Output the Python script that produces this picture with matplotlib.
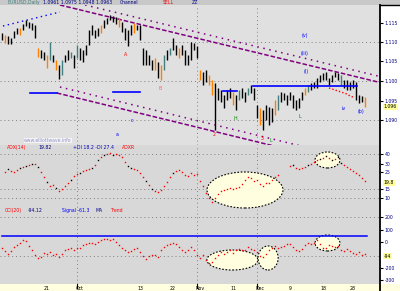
import numpy as np
import matplotlib
matplotlib.use("Agg")
import matplotlib.pyplot as plt
from matplotlib.patches import Ellipse, Rectangle
from matplotlib.lines import Line2D
import matplotlib.transforms as mtrans

# ---------------- data ----------------
bar_high = [167,165,164,162,169,172,172,176,180,178,177,175,152,150,148,145,158,145,140,135,
            140,145,150,148,145,155,152,150,155,170,175,170,172,175,180,182,185,184,183,182,
            178,172,170,175,177,175,175,152,150,145,140,142,138,135,145,150,152,162,155,152,
            155,150,145,158,157,154,130,128,130,125,120,117,112,110,105,110,112,108,105,110,
            112,108,112,115,112,95,92,90,95,93,92,100,105,108,107,105,108,105,100,102,
            108,112,115,117,118,122,125,127,128,122,125,128,127,125,120,120,118,120,118,105,
            104,103]
bar_low = [160,157,156,156,162,166,165,170,174,172,170,162,143,142,140,132,140,138,130,121,
           125,138,140,142,132,142,140,138,145,155,165,162,164,167,172,176,180,178,176,173,
           168,160,154,165,167,170,160,135,135,135,130,130,122,120,130,140,145,150,145,142,
           145,135,135,140,150,142,120,115,118,115,105,70,100,98,92,100,102,95,90,100,
           102,98,105,107,100,82,75,70,80,75,78,85,90,98,100,95,100,92,90,92,
           100,105,108,110,112,112,118,120,120,115,118,123,120,115,112,110,110,112,100,97,
           98,93]
orange_bars = [1, 6, 12, 15, 18, 33, 39, 44, 51, 53, 59, 66, 69, 70, 77, 86, 91, 101, 121]
teal_bars = [16, 20, 23, 25, 54, 56, 79, 82, 92, 102, 113]

nan = np.nan
osc1 = [nan,39,42,40,39,41,43,44,45,46,47,47,44,39,34,29,25,26,23,20,
        22,25,28,31,35,37,38,40,41,42,43,46,51,54,56,57,58,56,57,56,
        54,49,45,43,42,41,38,34,30,26,22,20,19,21,25,29,34,38,40,41,
        39,36,35,38,36,37,30,25,18,13,9,13,17,20,21,22,23,22,23,24,
        27,31,34,33,30,31,27,25,28,28,31,34,36,nan,nan,nan,45,46,43,42,
        43,44,46,47,49,51,52,53,55,53,51,52,54,48,46,44,42,40,38,36,
        33,30]
osc1_black = [2, 6, 8, 10, 12, 15, 18, 23, 26, 30, 32, 34, 37, 42, 43, 48, 50, 57,
              97, 102, 106, 108, 110, 112, 113]

osc2 = [36,33,30,33,37,39,41,44,43,38,34,29,26,27,31,30,32,29,30,27,
        30,34,35,36,34,36,36,39,40,41,41,40,42,44,45,45,44,45,42,39,
        36,34,32,33,35,36,32,28,25,28,29,29,27,34,37,39,40,41,40,37,
        34,32,34,37,34,29,26,29,24,21,22,26,29,32,30,32,34,31,34,35,
        34,34,37,35,34,32,28,27,30,34,36,38,36,37,38,40,40,37,34,33,
        35,39,41,40,41,44,40,36,36,39,38,37,38,34,33,35,33,31,30,32,
        29,30]

# trend channel lines: (index, level) end points
upper_dashed = [(19.3, 195), (126, 117.5)]
upper_dotted = [(27.7, 195), (126, 123.5)]
lower_dotted = [(19.3, 113), (99, 54.5)]
lower_dashed = [(18.3, 107), (90, 54.5)]
blue_dotted = [(0.33, 174), (19.3, 188)]
blue_levels = [(9.3, 18.3, 107), (37, 46, 108), (73.7, 78.3, 109), (83.7, 118.3, 114)]
red_curve_x = [109, 110, 111, 112, 113, 114, 115, 116, 117]
red_curve_y = [112, 111, 110, 109, 108, 107, 106, 104, 103]

osc1_ellipses = [(81, 21, 25.3, 36), (108.5, 51, 8.3, 16)]
osc2_ellipses = [(76.8, 24, 17, 20), (88.7, 26, 6.7, 24), (108.5, 41, 8.3, 16)]
osc2_signal = 48

price_ticks = [177, 158, 139, 119, 99, 80]
price_labels = ["1.115", "1.110", "1.105", "1.100", "1.095", "1.090"]
price_grid = [158, 119, 80]
price_last = (93, "1.096")
osc1_ticks = [57, 47, 39, 22, 13]
osc1_labels = ["40", "30", "25", "15", "10"]
osc1_grid = [57, 22, 13]
osc1_last = (28, "19.8")
osc2_ticks = [67, 54, 42, 16, 4]
osc2_labels = ["200", "100", "0", "-200", "-300"]
osc2_grid = [67, 28]
osc2_last = (28, "-94")
month_idx = [25, 65, 85]
date_idx = [15, 26, 46, 57, 66, 77, 86, 96, 107, 117]
date_labels = ["21", "Oct", "13", "22", "Nov", "11", "Dec", "9", "18", "28"]

wave_labels = [(101, 165, "(v)", "#0000ff"), (101, 147, "(iii)", "#0000ff"), (101.3, 129, "(i)", "#0000ff"),
               (113.7, 92, "iv", "#0000ff"), (119.7, 88, "(b)", "#0000ff"), (43.3, 79, "c", "#0000ff"),
               (38.3, 66, "a", "#0000ff"), (41.3, 145, "A", "#ff0000"), (52.7, 112, "B", "#ff6060"),
               (77.7, 82, "H", "#008000"), (99.3, 84, "L", "#008000"), (89.7, 59, "L", "#008000"),
               (70.7, 66, "2", "#ff0000"), (86.7, 61, "3", "#ff0000")]

# ---------------- layout ----------------
W, H = 400, 291
fig = plt.figure(figsize=(W / 100, H / 100), dpi=100)
fig.patch.set_facecolor('#d8d8d8')


def rect(x0, y0, x1, y1):
    return [x0 / W, 1 - y1 / H, (x1 - x0) / W, (y1 - y0) / H]


def fy(p):
    return 1 - p / H


# background strips
fig.add_artist(Rectangle((0, fy(5)), 1, 5 / H, transform=fig.transFigure, fc='#c8c8c8', ec='none', zorder=-2))
fig.add_artist(Rectangle((380 / W, fy(284)), 20 / W, 279 / H, transform=fig.transFigure, fc='#ffffff', ec='none', zorder=-2))
fig.add_artist(Rectangle((0, 0), 1, 7 / H, transform=fig.transFigure, fc='#ffffe0', ec='none', zorder=-2))

ax1 = fig.add_axes(rect(0, 5, 380, 145))
ax2 = fig.add_axes(rect(0, 145, 380, 211))
ax3 = fig.add_axes(rect(0, 211, 380, 284))

n = len(bar_high)
idx = np.arange(n)
xlim = (-2 / 3, 126)
grid_kw = dict(color='#808080', lw=0.7, ls=(0, (1, 3)), zorder=0.5)

for ax, fc in ((ax1, '#e0e0e0'), (ax2, '#d8d8d8'), (ax3, '#d8d8d8')):
    ax.set_facecolor(fc)
    ax.set_xlim(*xlim)
    for s in ax.spines.values():
        s.set_visible(False)
    ax.set_xticks([])
    ax.yaxis.tick_right()
    ax.tick_params(axis='y', length=2, width=0.8, pad=1.2, labelsize=3.3, labelcolor='#000080', color='black')
    for m in month_idx:
        ax.axvline(m, **grid_kw)

ax1.set_ylim(55, 195)
ax2.set_ylim(0, 66)
ax3.set_ylim(0, 73)

# ---- main panel ----
for g in price_grid:
    ax1.axhline(g, **grid_kw)
colors = []
for i in range(n):
    if i in orange_bars:
        colors.append('#ff8000')
    elif i in teal_bars:
        colors.append('#408080')
    else:
        colors.append('#000000')
ax1.vlines(idx, bar_low, bar_high, colors=colors, lw=1.0, zorder=3)

purple = '#800080'
for seg, ls in ((upper_dashed, (0, (3, 1.3))), (lower_dashed, (0, (3, 1.3))),
                (upper_dotted, (0, (1, 3))), (lower_dotted, (0, (1, 3)))):
    ax1.plot([seg[0][0], seg[1][0]], [seg[0][1], seg[1][1]], color=purple, lw=1.1, ls=ls, zorder=2)
ax1.plot([blue_dotted[0][0], blue_dotted[1][0]], [blue_dotted[0][1], blue_dotted[1][1]],
         color='#0000ff', lw=1.0, ls=(0, (1, 2.5)), zorder=2)
for x0, x1, lv in blue_levels:
    ax1.plot([x0, x1], [lv, lv], color='#0000ff', lw=1.2, zorder=4)
ax1.plot(red_curve_x, red_curve_y, color='#ff0000', lw=1.0, ls=(0, (1, 1.5)), zorder=4)
for x, y, t, c in wave_labels:
    ax1.text(x, y, t, color=c, fontsize=3.4, ha='center', va='center', zorder=5)
ax1.set_yticks(price_ticks)
ax1.set_yticklabels(price_labels)

# ---- oscillator 1 ----
for g in osc1_grid:
    ax2.axhline(g, **grid_kw)
for cx, cy, w, h in osc1_ellipses:
    ax2.add_patch(Ellipse((cx, cy), w, h, fc='#ffffe0', ec='black', lw=0.8, ls=(0, (1.5, 1.5)), zorder=1))
o1 = np.array(osc1, dtype=float)
red_mask = np.array([i not in osc1_black for i in range(len(o1))])
ax2.plot(idx[red_mask], o1[red_mask], ls='none', marker='s', ms=1.0, mew=0, color='#ff0000', zorder=3)
ax2.plot(idx[~red_mask], o1[~red_mask], ls='none', marker='s', ms=1.0, mew=0, color='#000000', zorder=3)
ax2.set_yticks(osc1_ticks)
ax2.set_yticklabels(osc1_labels)

# ---- oscillator 2 ----
for g in osc2_grid:
    ax3.axhline(g, **grid_kw)
ax3.plot([0, n - 0.5], [osc2_signal, osc2_signal], color='#0000ff', lw=1.1, zorder=2)
for cx, cy, w, h in osc2_ellipses:
    ax3.add_patch(Ellipse((cx, cy), w, h, fc='#ffffe0', ec='black', lw=0.8, ls=(0, (1.5, 1.5)), zorder=1))
ax3.plot(idx, osc2, ls='none', marker='s', ms=1.0, mew=0, color='#ff0000', zorder=3)
ax3.set_yticks(osc2_ticks)
ax3.set_yticklabels(osc2_labels)

# highlighted last values
for ax, (val, lab) in ((ax1, price_last), (ax2, osc1_last), (ax3, osc2_last)):
    tr = mtrans.blended_transform_factory(ax.transAxes, ax.transData)
    ax.text(1.01, val, lab, transform=tr, fontsize=3.3, color='black', va='center', ha='left',
            bbox=dict(boxstyle='square,pad=0.12', fc='#ffff99', ec='none'), clip_on=False)

# right axis frame
fig.add_artist(Line2D([380 / W, 380 / W], [0, fy(5)], transform=fig.transFigure, color='black', lw=1.3))
fig.add_artist(Line2D([380 / W, 1], [fy(5), fy(5)], transform=fig.transFigure, color='black', lw=1.0))

# headers
fs = 3.3
fig.text(8 / W, fy(2.6), "EURUSD,Daily", color='#408080', fontsize=fs, va='center')
fig.text(43 / W, fy(2.6), "1.0961 1.0975 1.0948 1.0963", color='#000080', fontsize=fs, va='center')
fig.text(120 / W, fy(2.6), "Channel", color='#000080', fontsize=fs, va='center')
fig.text(163 / W, fy(2.6), "SELL", color='#ff0000', fontsize=fs, va='center')
fig.text(192 / W, fy(2.6), "ZZ", color='#000080', fontsize=fs, va='center')

fig.text(7 / W, fy(147.8), "ADX(14)", color='#ff0000', fontsize=fs, va='center')
fig.text(38 / W, fy(147.8), "19.82", color='#000080', fontsize=fs, va='center')
fig.text(73 / W, fy(147.8), "+DI 18.2 -DI 27.4", color='#0000c0', fontsize=fs, va='center')
fig.text(122 / W, fy(147.8), "ADXR", color='#ff0000', fontsize=fs, va='center')

fig.text(5 / W, fy(210.5), "CCI(20)", color='#ff0000', fontsize=fs, va='center')
fig.text(28 / W, fy(210.5), "-94.12", color='#000080', fontsize=fs, va='center')
fig.text(62 / W, fy(210.5), "Signal -61.3", color='#0000ff', fontsize=fs, va='center')
fig.text(95 / W, fy(210.5), "MA", color='#000080', fontsize=fs, va='center')
fig.text(110 / W, fy(210.5), "Trend", color='#ff0000', fontsize=fs, va='center')

fig.text(24 / W, fy(140.5), "www.elliottwave.info", color='#9090c8', fontsize=3.3, va='center',
         bbox=dict(boxstyle='square,pad=0.1', fc='#f4f4f4', ec='none'))

# date axis
trd = mtrans.blended_transform_factory(ax3.transData, fig.transFigure)
for m in month_idx:
    fig.add_artist(Line2D([m, m], [fy(287.5), fy(284)], transform=trd, color='black', lw=0.8))
for x, lab in zip(date_idx, date_labels):
    ax3.text(x, fy(288), lab, transform=trd, fontsize=3.3, color='black', ha='center', va='center', clip_on=False)

fig.savefig('out.png', dpi=100, facecolor=fig.get_facecolor())
